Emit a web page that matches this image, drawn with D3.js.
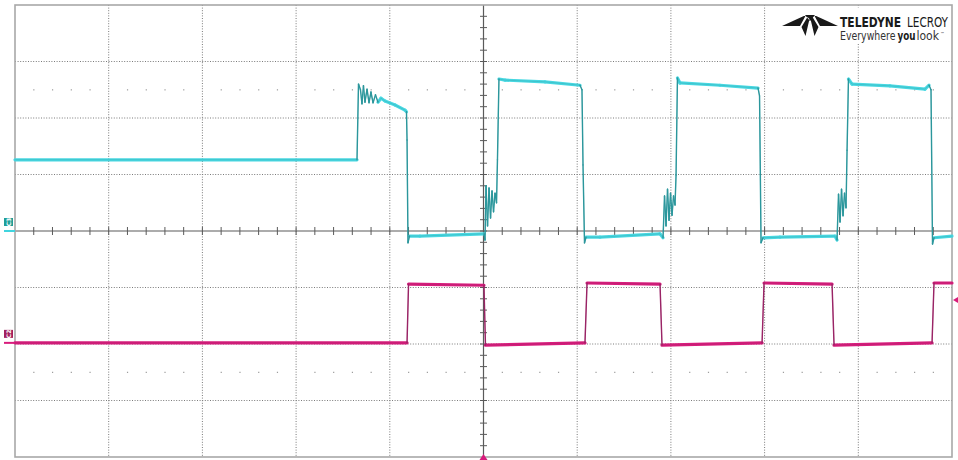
<!DOCTYPE html>
<html>
<head>
<meta charset="utf-8">
<script src="https://cdn.jsdelivr.net/npm/d3@7/dist/d3.min.js"></script>
<style>
  html, body { margin: 0; padding: 0; background: #ffffff; }
  svg { display: block; }
</style>
</head>
<body>
<svg id="scope" width="958" height="460"></svg>
<script>
// Screen grid: 10 horizontal x 8 vertical divisions, values in divisions
const xDivisions = [-5, -4, -3, -2, -1, 0, 1, 2, 3, 4, 5];
const yDivisions = [-4, -3, -2, -1, 0, 1, 2, 3, 4];

// Channel 3 (cyan) trace: time [div], level [div]
const c3Time = [
  -5.00, -1.350, -1.334, -1.313, -1.297, -1.281, -1.265, -1.243, -1.222, -1.201,
  -1.179, -1.153, -1.126, -1.094, -1.051, -0.944, -0.838, -0.822, -0.816, -0.806,
  -0.790, -0.678, 0.005, 0.016, 0.027, 0.043, 0.059, 0.075, 0.091, 0.107,
  0.123, 0.139, 0.149, 0.165, 0.230, 0.656, 1.030, 1.051, 1.062, 1.078,
  1.094, 1.243, 1.883, 1.916, 1.932, 1.948, 1.964, 1.980, 1.996, 2.012,
  2.028, 2.044, 2.055, 2.070, 2.097, 2.524, 2.930, 2.946, 2.962, 2.983,
  3.164, 3.751, 3.773, 3.789, 3.805, 3.821, 3.837, 3.853, 3.869, 3.880,
  3.895, 3.933, 4.338, 4.712, 4.755, 4.776, 4.792, 4.808, 5.00
];
const c3Level = [
  1.26, 1.26, 2.60, 2.50, 2.25, 2.57, 2.28, 2.51, 2.27, 2.46,
  2.27, 2.41, 2.28, 2.35, 2.30, 2.23, 2.14, 2.11, 1.61, -0.21,
  -0.09, -0.09, -0.05, -0.16, 0.80, 0.09, 0.76, 0.23, 0.71, 0.34,
  0.67, 0.50, 1.26, 2.69, 2.67, 2.64, 2.58, 2.50, 1.17, -0.21,
  -0.11, -0.11, -0.05, -0.12, 0.62, 0.09, 0.74, 0.19, 0.67, 0.28,
  0.62, 0.46, 0.99, 2.71, 2.62, 2.58, 2.53, 2.39, -0.21, -0.12,
  -0.11, -0.09, -0.16, 0.65, 0.16, 0.74, 0.27, 0.67, 0.41, 1.43,
  2.69, 2.60, 2.57, 2.51, 2.58, 2.50, -0.23, -0.12, -0.09
];

// Channel 2 (magenta) trace: time [div], level [div]
const c2Time = [
  -5.00, -0.816, -0.800, 0.005, 0.021, 1.083, 1.105, 1.884, 1.905,
  2.973, 2.994, 3.720, 3.741, 4.787, 4.808, 5.00
];
const c2Level = [
  -1.98, -1.98, -0.94, -0.96, -2.02, -1.98, -0.92, -0.94, -2.02,
  -1.98, -0.92, -0.94, -2.02, -1.98, -0.92, -0.92
];

// Channel ground markers and labels
const channelNames = ["C3", "C2"];
const channelOffsets = [0.0, -1.98];
const triggerLevel = -1.22;

const svg = d3.select("#scope");
const plotLeft = 15, plotRight = 952, plotTop = 5, plotBottom = 457;

const x = d3.scaleLinear().domain([-5, 5]).range([plotLeft, plotRight]);
const y = d3.scaleLinear().domain([-4, 4]).range([plotBottom, plotTop]);

const minorX = d3.range(-25, 26).map(d => d / 5);
const minorY = d3.range(-20, 21).map(d => d / 5);

// Dotted graticule
const grid = svg.append("g");
grid.selectAll("line.v")
  .data(xDivisions.filter(d => d !== 0 && Math.abs(d) !== 5))
  .join("line")
  .attr("x1", d => x(d)).attr("x2", d => x(d))
  .attr("y1", plotTop).attr("y2", plotBottom)
  .attr("stroke", "#7a7a7a").attr("stroke-width", 1)
  .attr("stroke-dasharray", "1,1.6");
grid.selectAll("line.h")
  .data(yDivisions.filter(d => d !== 0 && Math.abs(d) !== 4))
  .join("line")
  .attr("x1", plotLeft).attr("x2", plotRight)
  .attr("y1", d => y(d)).attr("y2", d => y(d))
  .attr("stroke", "#7a7a7a").attr("stroke-width", 1)
  .attr("stroke-dasharray", "1,1.6");

// Faint sub-division dots at +/-2.5 div
[2.5, -2.5].forEach(level => {
  grid.selectAll(null)
    .data(minorX.filter(d => Math.abs(d - Math.round(d)) > 1e-6))
    .join("rect")
    .attr("x", d => x(d) - 0.5).attr("y", y(level) - 0.5)
    .attr("width", 1.2).attr("height", 1.2)
    .attr("fill", "#9a9a9a");
});

// Center axes with minor ticks
const axes = svg.append("g");
axes.append("line")
  .attr("x1", plotLeft).attr("x2", plotRight)
  .attr("y1", y(0)).attr("y2", y(0))
  .attr("stroke", "#5a5a5a").attr("stroke-width", 1.2);
axes.append("line")
  .attr("x1", x(0)).attr("x2", x(0))
  .attr("y1", plotTop).attr("y2", plotBottom)
  .attr("stroke", "#5a5a5a").attr("stroke-width", 1.2);
axes.selectAll("line.tx")
  .data(minorX.filter(d => Math.abs(d) < 5))
  .join("line")
  .attr("x1", d => x(d)).attr("x2", d => x(d))
  .attr("y1", y(0) - 4).attr("y2", y(0) + 4)
  .attr("stroke", "#5a5a5a").attr("stroke-width", 1);
axes.selectAll("line.ty")
  .data(minorY.filter(d => Math.abs(d) < 4))
  .join("line")
  .attr("x1", x(0) - 3.5).attr("x2", x(0) + 3.5)
  .attr("y1", d => y(d)).attr("y2", d => y(d))
  .attr("stroke", "#5a5a5a").attr("stroke-width", 1);

// Outer frame
svg.append("rect")
  .attr("x", plotLeft).attr("y", plotTop)
  .attr("width", plotRight - plotLeft).attr("height", plotBottom - plotTop)
  .attr("fill", "none").attr("stroke", "#a8a8a8").attr("stroke-width", 1.6);

// Traces: flat sections drawn as a wide bright band, transitions as a thin darker line
function drawTrace(times, levels, bandColor, edgeColor, bandWidth) {
  const pts = times.map((t, i) => [x(t), y(levels[i])]);
  const segs = d3.pairs(pts);
  const isEdge = s => Math.abs(s[1][1] - s[0][1]) > 2.2 * Math.abs(s[1][0] - s[0][0]);
  const g = svg.append("g").attr("fill", "none").attr("stroke-linecap", "round");
  const line = d3.line();
  g.selectAll("path.band")
    .data(segs.filter(s => !isEdge(s)))
    .join("path")
    .attr("d", s => line(s))
    .attr("stroke", bandColor).attr("stroke-width", bandWidth);
  g.selectAll("path.edge")
    .data(segs.filter(isEdge))
    .join("path")
    .attr("d", s => line(s))
    .attr("stroke", edgeColor).attr("stroke-width", 1.4);
  g.append("path")
    .attr("d", line(pts))
    .attr("stroke", edgeColor).attr("stroke-width", 0.6).attr("stroke-opacity", 0.55);
}
drawTrace(c3Time, c3Level, "#48d8e2", "#2c979c", 3.2);
drawTrace(c2Time, c2Level, "#d81c7c", "#9a2466", 3.2);

// Channel markers at the left edge
const markerColors = [["#1f9e98", "#40d4de"], ["#a3205e", "#d81c7c"]];
channelNames.forEach((name, i) => {
  const yy = y(channelOffsets[i]);
  const g = svg.append("g");
  g.append("rect")
    .attr("x", 4).attr("y", yy - 13).attr("width", 9).attr("height", 8)
    .attr("fill", markerColors[i][0]);
  g.append("text")
    .attr("transform", `translate(8.5,${yy - 9}) rotate(-90)`)
    .attr("text-anchor", "middle").attr("dy", "0.35em")
    .attr("font-family", "DejaVu Sans, sans-serif")
    .attr("font-size", 6).attr("font-weight", "bold")
    .attr("fill", "#ffffff")
    .text(name);
  g.append("line")
    .attr("x1", 4).attr("x2", 15).attr("y1", yy).attr("y2", yy)
    .attr("stroke", markerColors[i][1]).attr("stroke-width", 2);
});

// Trigger markers: level at right edge, position at bottom
svg.append("path")
  .attr("d", d3.line()([[plotRight + 1, y(triggerLevel)], [plotRight + 6, y(triggerLevel) - 3], [plotRight + 6, y(triggerLevel) + 3]]) + "Z")
  .attr("fill", "#d81c7c");
svg.append("path")
  .attr("d", d3.line()([[x(0), plotBottom - 3], [x(0) - 4, plotBottom + 3], [x(0) + 4, plotBottom + 3]]) + "Z")
  .attr("fill", "#d81c7c");

// Brand logo, top right
const logo = svg.append("g");
logo.append("rect").attr("x", 776).attr("y", 8).attr("width", 174).attr("height", 36).attr("fill", "#ffffff");
logo.append("path")
  .attr("d", [
    "M806,15 L782,26 L800,26 Z",
    "M807.5,17 L801.5,27 L805.5,36 L809.5,19 Z",
    "M814,15 L838,26 L820,26 Z",
    "M812.5,17 L818.5,27 L814.5,36 L810.5,19 Z",
    "M805,15 L815,15 L810,21 Z"
  ].join(" "))
  .attr("fill", "#1a1a1a");

const narrow = "Liberation Sans Narrow, DejaVu Sans Condensed, sans-serif";
const brandParts = [
  { text: "TELEDYNE", x: 840, len: 61, weight: "bold" },
  { text: "LECROY", x: 907, len: 41, weight: "normal" }
];
logo.selectAll("text.brand")
  .data(brandParts)
  .join("text")
  .attr("x", d => d.x).attr("y", 26.5)
  .attr("font-family", narrow).attr("font-size", 14)
  .attr("font-weight", d => d.weight).attr("fill", "#1a1a1a")
  .attr("textLength", d => d.len).attr("lengthAdjust", "spacingAndGlyphs")
  .text(d => d.text);

const tagParts = [
  { text: "Everywhere", x: 840, len: 55.5, weight: "normal", color: "#333333" },
  { text: "you", x: 897.5, len: 18, weight: "bold", color: "#1a1a1a" },
  { text: "look", x: 916.5, len: 22.5, weight: "normal", color: "#333333" }
];
logo.selectAll("text.tag")
  .data(tagParts)
  .join("text")
  .attr("x", d => d.x).attr("y", 40)
  .attr("font-family", narrow).attr("font-size", 11.5)
  .attr("font-weight", d => d.weight).attr("fill", d => d.color)
  .attr("textLength", d => d.len).attr("lengthAdjust", "spacingAndGlyphs")
  .text(d => d.text);
logo.append("text")
  .attr("x", 940.5).attr("y", 35)
  .attr("font-family", "DejaVu Sans, sans-serif")
  .attr("font-size", 4).attr("fill", "#333333")
  .text("™");
</script>
</body>
</html>
